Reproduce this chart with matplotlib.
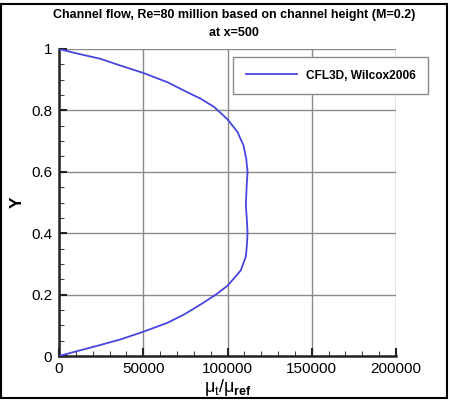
import matplotlib
matplotlib.use("Agg")
import matplotlib.pyplot as plt
from matplotlib.patches import Rectangle
from matplotlib.ticker import MultipleLocator

plt.rcParams['font.family'] = ['Liberation Sans', 'DejaVu Sans']
plt.rcParams['mathtext.fontset'] = 'custom'
plt.rcParams['mathtext.rm'] = 'Liberation Sans'
plt.rcParams['mathtext.it'] = 'Liberation Sans'
plt.rcParams['mathtext.bf'] = 'Liberation Sans:bold'

# Data
y_vals = [0.0, 0.014, 0.036, 0.054, 0.079, 0.108, 0.135, 0.168, 0.2, 0.229, 0.254,
          0.279, 0.324, 0.36, 0.4, 0.443, 0.49, 0.546, 0.6, 0.643, 0.686, 0.73,
          0.771, 0.811, 0.838, 0.859, 0.892, 0.922, 0.946, 0.968, 0.985, 1.0]
mut_vals = [0, 9500, 24600, 36500, 50000, 64300, 74200, 84100, 93100, 100000, 104000,
            107900, 110900, 111500, 111900, 111500, 110900, 111300, 111900, 111100, 109500, 105900,
            100000, 92100, 84100, 76200, 64300, 50000, 36500, 24600, 11000, 0]
series_label = "CFL3D, Wilcox2006"
title_lines = ["Channel flow, Re=80 million based on channel height (M=0.2)", "at x=500"]
x_ticks = [0, 50000, 100000, 150000, 200000]
y_ticks = [0, 0.2, 0.4, 0.6, 0.8, 1]

W, H = 450, 401
fig = plt.figure(figsize=(W / 100, H / 100), dpi=100)
ax = fig.add_axes([59 / W, 1 - 356 / H, (396 - 59) / W, (356 - 49) / H])

ax.plot(mut_vals, y_vals, color='#4646e0', lw=1.3, label=series_label, zorder=3,
        solid_joinstyle='round')

ax.set_xlim(0, 200000)
ax.set_ylim(0, 1)
ax.set_xticks(x_ticks)
ax.set_xticklabels([str(v) for v in x_ticks])
ax.set_yticks(y_ticks)
ax.set_yticklabels(['0', '0.2', '0.4', '0.6', '0.8', '1'])
ax.xaxis.set_minor_locator(MultipleLocator(10000))
ax.yaxis.set_minor_locator(MultipleLocator(0.05))
ax.grid(True, which='major', color='#8a8a8a', lw=1.0)
ax.set_axisbelow(True)

for s in ['top', 'right']:
    ax.spines[s].set_visible(False)
for s in ['left', 'bottom']:
    ax.spines[s].set_linewidth(1.8)
    ax.spines[s].set_color('#222222')

ax.tick_params(which='major', direction='in', length=6, width=1.5, labelsize=11,
               pad=5, colors='#222222', labelcolor='black')
ax.tick_params(which='minor', direction='in', length=3.5, width=0.8, colors='#444444')
ax.tick_params(axis='x', pad=4)

ax.set_xlabel(r'$\mu_t/\mu_{\mathbf{ref}}$', fontsize=13, labelpad=1)
ax.set_ylabel('Y', fontsize=12.5, fontweight='bold')
ax.yaxis.set_label_coords((25 - 59) / (396 - 59), 0.5)

fig.text(234 / W, 1 - 15 / H, title_lines[0], ha='center', va='center',
         fontsize=9.0, fontweight='bold')
fig.text(234 / W, 1 - 33 / H, title_lines[1], ha='center', va='center',
         fontsize=9.0, fontweight='bold')

leg = ax.legend(loc='upper left', bbox_to_anchor=(233 / W, 1 - 57 / H),
                bbox_transform=fig.transFigure, fancybox=False, framealpha=1,
                edgecolor='#8a8a8a', prop={'weight': 'bold', 'size': 8.6},
                handlelength=4.3, borderpad=1.05, handletextpad=0.75, borderaxespad=0)
leg.get_frame().set_linewidth(1.0)

fig.patches.append(Rectangle((1 / W, 3 / H), (447 - 1) / W, (H - 4) / H - 3 / H,
                             transform=fig.transFigure, fill=False, ec='black', lw=1.5))

fig.savefig('out.png', dpi=100)
